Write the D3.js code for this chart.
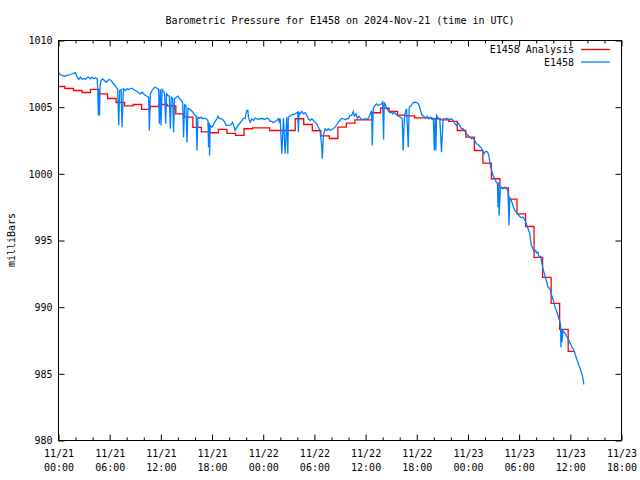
<!DOCTYPE html>
<html><head><meta charset="utf-8">
<script src="https://cdn.jsdelivr.net/npm/d3@7"></script>
<style>
body{margin:0;background:#fff}
svg{display:block}
text{font-family:"DejaVu Sans Mono","Liberation Mono",monospace;font-size:10px;fill:#000}
</style>
</head><body>
<script>
// ---- data ----
const titleText = "Barometric Pressure for E1458 on 2024-Nov-21 (time in UTC)";
const yLabel = "milliBars";
const seriesNames = ["E1458 Analysis", "E1458"];
const xStart = "2024-11-21T00:00:00Z";
const xEnd = "2024-11-23T18:00:00Z";
const yTicks = [980, 985, 990, 995, 1000, 1005, 1010];

// observation: hours after 2024-11-21 00:00 UTC, pressure (mb)
const obsHours = [0.04,0.23,0.43,0.70,1.02,1.40,1.79,1.99,2.19,2.38,
 2.57,2.77,2.96,3.16,3.36,3.55,3.74,3.94,4.13,4.33,
 4.53,4.60,4.68,4.74,4.80,4.88,5.00,5.18,5.38,5.58,
 5.77,5.97,6.17,6.35,6.55,6.75,6.94,7.06,7.17,7.34,
 7.45,7.61,7.84,8.04,8.23,8.43,8.62,8.81,9.01,9.21,
 9.40,9.60,9.79,9.98,10.18,10.38,10.57,10.65,10.77,10.97,
 11.15,11.35,11.55,11.74,11.82,11.94,12.02,12.14,12.32,12.44,
 12.56,12.67,12.84,12.99,13.11,13.22,13.38,13.49,13.61,13.81,
 14.01,14.20,14.39,14.55,14.66,14.78,14.94,15.06,15.18,15.36,
 15.56,15.76,15.95,16.15,16.23,16.35,16.54,16.73,16.93,17.12,
 17.32,17.52,17.59,17.67,17.71,17.79,17.99,18.17,18.37,18.57,
 18.69,18.84,19.04,19.23,19.43,19.63,20.01,20.21,20.40,20.52,
 20.71,20.91,21.10,21.30,21.50,21.69,21.88,21.97,22.08,22.20,
 22.27,22.47,22.67,22.86,23.05,23.25,23.44,23.64,24.03,24.22,
 24.42,24.61,24.81,25.01,25.20,25.39,25.59,25.78,25.86,25.98,
 26.18,26.37,26.57,26.76,26.88,26.95,27.15,27.35,27.74,28.05,
 28.12,28.20,28.32,28.52,28.71,28.91,29.10,29.29,29.49,29.69,
 29.88,30.08,30.27,30.46,30.66,30.86,30.93,31.05,31.25,31.44,
 31.63,31.83,32.03,32.22,32.42,32.61,32.80,33.00,33.20,33.39,
 33.59,33.79,33.98,34.17,34.37,34.56,34.68,34.87,35.03,35.23,
 35.42,35.61,35.81,36.01,36.20,36.40,36.59,36.71,36.78,36.90,
 37.10,37.30,37.48,37.68,37.88,38.00,38.11,38.18,38.35,38.46,
 38.65,38.85,39.05,39.17,39.32,39.52,39.71,39.91,40.10,40.29,
 40.41,40.53,40.64,40.81,41.00,41.11,41.28,41.46,41.66,41.86,
 42.05,42.25,42.44,42.63,42.83,43.03,43.22,43.42,43.62,43.80,
 43.94,44.06,44.15,44.24,44.32,44.51,44.70,44.90,45.09,45.29,
 45.49,45.68,45.87,46.07,46.26,46.46,46.66,46.85,47.04,47.24,
 47.43,47.63,47.83,48.02,48.22,48.41,48.60,48.80,49.00,49.19,
 49.38,49.58,49.77,49.89,49.97,50.17,50.36,50.48,50.56,50.67,
 50.83,50.94,51.14,51.26,51.46,51.53,51.61,51.65,51.81,51.92,
 52.11,52.31,52.51,52.70,52.81,52.90,53.09,53.28,53.48,53.68,
 53.87,54.07,54.27,54.45,54.65,54.85,55.04,55.24,55.35,55.44,
 55.55,55.70,55.82,55.94,56.09,56.21,56.29,56.41,56.53,56.61,
 56.68,56.79,56.91,57.07,57.19,57.31,57.38,57.58,57.69,57.78,
 57.89,58.01,58.16,58.28,58.43,58.55,58.67,58.78,58.86,58.90,
 58.98,59.02,59.14,59.25,59.42,59.53,59.65,59.80,59.92,60.04,
 60.19,60.35,60.50,60.62,60.74,60.89,61.01,61.17,61.29,61.41,
 61.52,61.59];
const obsValues = [1007.58,1007.43,1007.38,1007.32,1007.38,1007.45,1007.55,1007.58,1007.25,1007.08,
 1007.25,1007.08,1007.17,1007.08,1007.23,1007.25,1007.13,1007.25,1007.13,1007.20,
 1007.13,1006.38,1004.38,1006.25,1004.38,1006.63,1007.00,1007.13,1007.00,1006.87,
 1007.00,1007.08,1007.00,1006.83,1006.68,1006.50,1006.33,1003.63,1006.25,1006.33,
 1003.50,1006.38,1006.25,1006.38,1006.33,1006.38,1006.42,1006.33,1006.25,1006.18,
 1006.08,1006.00,1006.12,1006.00,1005.88,1005.82,1005.75,1003.25,1006.00,1006.25,
 1006.42,1006.50,1006.42,1006.33,1003.75,1006.33,1003.63,1006.33,1006.18,1006.00,
 1003.75,1006.00,1005.88,1005.82,1003.38,1005.75,1005.67,1003.12,1005.63,1005.75,
 1005.82,1005.63,1005.50,1005.37,1002.75,1005.18,1005.13,1002.37,1004.92,1004.88,
 1004.75,1004.62,1004.43,1004.32,1001.75,1004.25,1004.17,1004.25,1004.13,1004.17,
 1004.13,1004.00,1002.00,1003.85,1001.38,1003.63,1003.50,1003.68,1003.93,1004.13,
 1004.32,1004.17,1004.13,1004.08,1003.93,1003.63,1003.63,1003.68,1003.87,1003.68,
 1003.25,1003.50,1003.68,1003.83,1004.00,1004.17,1004.13,1004.50,1004.75,1004.75,
 1004.25,1003.87,1004.13,1004.00,1004.17,1004.13,1004.08,1004.13,1004.13,1004.08,
 1004.17,1004.13,1003.93,1003.93,1003.83,1003.93,1004.00,1004.13,1003.93,1004.17,
 1001.50,1004.17,1001.50,1004.25,1001.50,1004.25,1004.38,1004.43,1004.50,1004.62,
 1003.12,1004.60,1004.50,1004.68,1004.50,1004.58,1004.38,1004.13,1004.00,1004.13,
 1004.00,1003.87,1003.75,1003.50,1003.25,1002.00,1001.13,1002.88,1003.38,1003.25,
 1003.38,1003.25,1003.33,1003.38,1003.50,1003.68,1003.87,1004.00,1004.17,1004.13,
 1004.05,1004.13,1004.13,1004.38,1004.38,1004.68,1004.32,1004.50,1004.17,1004.32,
 1004.13,1004.08,1004.08,1004.13,1004.08,1004.25,1004.58,1004.75,1002.13,1004.88,
 1005.13,1005.25,1005.13,1005.18,1005.25,1005.37,1002.58,1005.37,1005.13,1004.92,
 1004.75,1004.58,1004.62,1004.50,1004.62,1004.50,1004.38,1004.32,1004.25,1004.13,
 1001.75,1004.00,1004.58,1004.88,1002.00,1005.00,1005.07,1005.25,1005.37,1005.37,
 1005.33,1005.18,1004.75,1004.38,1004.32,1004.17,1004.32,1004.13,1004.25,1004.08,
 1004.15,1001.75,1004.15,1001.75,1004.38,1004.17,1004.15,1001.62,1004.13,1004.08,
 1004.17,1004.13,1004.08,1004.13,1004.00,1003.75,1003.63,1003.80,1003.63,1003.38,
 1003.38,1003.20,1003.00,1002.88,1002.75,1002.63,1002.70,1002.50,1002.25,1002.20,
 1002.05,1001.95,1001.62,1001.50,1001.62,1001.70,1001.55,1001.25,1000.87,1000.50,
 1000.12,999.88,999.63,999.45,999.25,997.50,999.37,996.88,998.95,999.00,
 998.88,999.00,998.88,998.75,996.13,998.20,998.00,997.63,997.25,997.12,
 997.00,996.80,996.70,996.75,996.55,996.25,995.88,995.55,995.00,994.63,
 994.50,994.25,994.12,994.25,994.05,994.12,993.88,993.75,993.80,993.50,
 993.25,992.88,992.62,992.25,992.00,991.70,991.50,991.38,991.25,991.00,
 990.70,990.50,990.13,989.88,989.62,989.38,989.13,988.87,988.63,987.00,
 988.30,987.37,988.25,988.12,988.00,987.88,987.75,987.55,987.37,987.20,
 987.00,986.88,986.62,986.38,986.13,985.87,985.63,985.38,985.12,984.88,
 984.50,984.20];

// analysis: hourly values (valid from hh:45), first one from 2024-11-20 23:45 UTC
const analysisStart = "2024-11-20T23:45:00Z";
const analysisEnd = "2024-11-23T12:30:00Z";
const analysisValues = [1006.55,1006.40,1006.25,1006.10,1006.33,1006.00,1005.65,1005.35,1005.10,1005.20,
 1004.83,1005.05,1005.20,1005.10,1004.50,1004.25,1003.48,1003.15,1003.08,1003.33,
 1003.03,1002.88,1003.38,1003.45,1003.45,1003.25,1003.25,1003.25,1004.13,1003.70,
 1003.23,1002.84,1002.65,1003.50,1003.81,1004.04,1004.05,1004.58,1004.92,1004.68,
 1004.41,1004.34,1004.20,1004.20,1004.13,1004.04,1003.93,1003.25,1002.75,1001.75,
 1000.80,999.63,998.95,998.10,997.00,996.05,993.73,992.23,990.28,988.33,
 986.68];

// ---- drawing ----
const W = 640, H = 480;
const L = 58.5, R = 621.5, T = 40.5, B = 440.5;
const HOUR = 3600e3;
const t0 = new Date(xStart).getTime();
const a0 = new Date(analysisStart).getTime();

const x = d3.scaleUtc().domain([new Date(xStart), new Date(xEnd)]).range([L, R]);
const y = d3.scaleLinear().domain([980, 1010]).range([B, T]);

const svg = d3.select("body").append("svg").attr("width", W).attr("height", H);
svg.append("rect").attr("width", W).attr("height", H).attr("fill", "#fff");

svg.append("text").attr("x", (L + R) / 2).attr("y", 23.5).attr("text-anchor", "middle").text(titleText);

svg.append("defs").append("clipPath").attr("id", "clip")
  .append("rect").attr("x", L).attr("y", T).attr("width", R - L).attr("height", B - T);

const obs = obsHours.map((h, i) => ({ t: new Date(t0 + h * HOUR), v: obsValues[i] }));
const ana = analysisValues.map((v, i) => ({ t: new Date(a0 + i * HOUR), v }));
ana.push({ t: new Date(analysisEnd), v: analysisValues[analysisValues.length - 1] });

const plot = svg.append("g").attr("clip-path", "url(#clip)");
plot.append("path").datum(ana)
  .attr("fill", "none").attr("stroke", "#ff0000").attr("stroke-width", 1.3)
  .attr("d", d3.line().x(d => x(d.t)).y(d => y(d.v)).curve(d3.curveStepAfter));
plot.append("path").datum(obs)
  .attr("fill", "none").attr("stroke", "#0080ff").attr("stroke-width", 1.3)
  .attr("d", d3.line().x(d => x(d.t)).y(d => y(d.v)));

// frame
svg.append("rect").attr("x", L).attr("y", T).attr("width", R - L).attr("height", B - T)
  .attr("fill", "none").attr("stroke", "#000").attr("stroke-width", 1);

const major = x.ticks(d3.utcHour.every(6));
const minor = x.ticks(d3.utcHour.every(2)).filter(d => d.getUTCHours() % 6 !== 0);
const fmtDay = d3.utcFormat("%m/%d"), fmtTime = d3.utcFormat("%H:%M");

function styleAxis(g) {
  g.select(".domain").remove();
  g.attr("font-family", null).attr("font-size", null);
  g.selectAll(".tick line").attr("stroke", "#000");
}

// bottom major with labels
const gx = svg.append("g").attr("transform", `translate(0,${B})`)
  .call(d3.axisBottom(x).tickValues(major).tickSize(-6).tickPadding(9.5).tickFormat(() => ""));
styleAxis(gx);
gx.selectAll(".tick text").each(function (d) {
  const t = d3.select(this);
  t.text(null);
  t.append("tspan").attr("x", 0).text(fmtDay(d));
  t.append("tspan").attr("x", 0).attr("dy", 14).text(fmtTime(d));
});
svg.append("g").attr("transform", `translate(0,${B})`)
  .call(d3.axisBottom(x).tickValues(minor).tickSize(-3).tickFormat(() => "")).call(styleAxis);
// top mirror
svg.append("g").attr("transform", `translate(0,${T})`)
  .call(d3.axisTop(x).tickValues(major).tickSize(-6).tickFormat(() => "")).call(styleAxis);
svg.append("g").attr("transform", `translate(0,${T})`)
  .call(d3.axisTop(x).tickValues(minor).tickSize(-3).tickFormat(() => "")).call(styleAxis);
// left with labels, right mirror
svg.append("g").attr("transform", `translate(${L},0)`)
  .call(d3.axisLeft(y).tickValues(yTicks).tickSize(-6).tickPadding(6).tickFormat(d3.format("d"))).call(styleAxis);
svg.append("g").attr("transform", `translate(${R},0)`)
  .call(d3.axisRight(y).tickValues(yTicks).tickSize(-6).tickFormat(() => "")).call(styleAxis);

// y label
svg.append("text").attr("transform", "translate(15,240) rotate(-90)").attr("text-anchor", "middle").text(yLabel);

// legend
const colors = ["#ff0000", "#0080ff"];
seriesNames.forEach((name, i) => {
  const yy = 49.5 + i * 12.5;
  svg.append("text").attr("x", 574).attr("y", yy + 3.7).attr("text-anchor", "end").text(name);
  svg.append("line").attr("x1", 581).attr("x2", 610).attr("y1", yy).attr("y2", yy)
    .attr("stroke", colors[i]).attr("stroke-width", 1.3);
});
</script>
</body></html>
